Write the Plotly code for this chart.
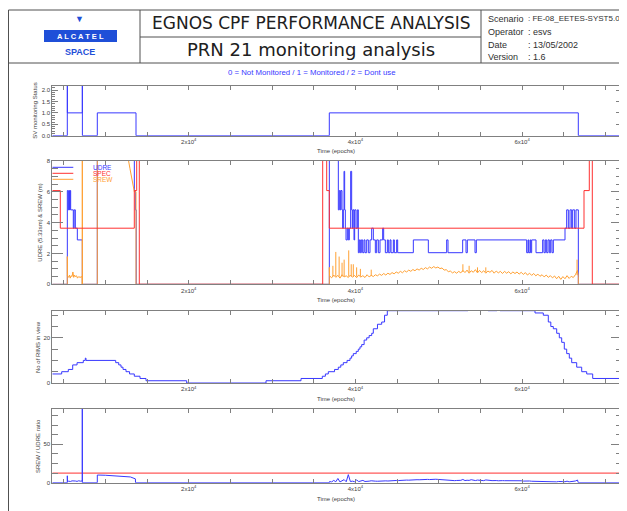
import plotly.graph_objects as go

# the page body keeps its default 8px margin, so the figure is drawn 8px in
PAGE_W, PAGE_H, OFF = 627, 511, 8
W, H = PAGE_W - OFF, PAGE_H - OFF

# ---------------- data (time axis in epochs) ----------------
t_start, t_end = 3630, 72030

# SV monitoring status (0 / 1 / 2)
status_t = [3630, 5430, 5440, 7230, 7240, 9030, 13674, 36870, 66750, 72030]
status_v = [0, 3, 1, 3, 0, 1, 0, 1, 0, 0]

# UDRE (blue, step)
udre_t = [3630, 5434, 5550, 5620, 5700, 5760, 5834, 6150, 6250, 6394, 6634, 7234,
          9030, 13474, 13600, 13700, 36874,
          37954, 38074, 38194, 38274, 38394, 38474, 38554, 38634, 38714, 38794,
          38874, 39034, 39154, 39274, 39434, 39554, 39634, 39714, 39834, 39914,
          40074, 40234, 40354, 40474, 40594, 40714, 40874, 41034, 41154, 41354,
          41554, 41754, 41954, 42154, 42394, 42554, 42754, 42954, 43274, 43394,
          43594, 43834, 43954, 44154, 44274, 44554, 44674, 44954, 45074, 46954,
          48754, 50954, 51114, 52874, 53274, 53434, 54354, 54514, 60554, 60714,
          60794, 60954, 61034, 61154, 61674, 62474, 62634, 62794, 62954, 63114,
          63274, 63434, 63594, 63754, 65154, 65354, 65554, 65754, 65954, 66074,
          66314, 66474, 66754, 72030]
udre_v = [0, 6.08, 4.83, 6.08, 4.83, 6.08, 4.83, 3.64, 4.83, 3.64, 2.88, 0,
          30, 6.08, 4.83, 0, 50,
          4.83, 6.08, 4.83, 6.08, 4.83, 3.64, 4.83, 7.33, 4.83, 3.64,
          2.88, 3.64, 2.88, 3.64, 7.33, 4.83, 3.64, 4.83, 2.88, 4.83,
          3.64, 4.83, 2.05, 2.88, 2.05, 2.88, 2.05, 2.88, 2.05, 2.88,
          2.05, 2.88, 3.64, 2.88, 2.05, 2.88, 2.05, 2.88, 3.64, 2.88,
          2.05, 2.88, 2.05, 2.88, 2.05, 2.88, 2.05, 2.88, 2.05, 2.88,
          2.05, 2.88, 2.05, 2.88, 2.05, 2.88, 2.05, 2.88, 2.05, 2.88,
          2.05, 2.88, 2.05, 2.88, 2.05, 2.88, 2.05, 2.88, 2.05, 2.88,
          2.05, 2.88, 2.05, 2.88, 3.64, 4.83, 3.64, 4.83, 3.64, 4.83,
          3.64, 4.83, 0, 0]

# SPEC (red, step)
spec_t = [3630, 4590, 13470, 13758, 14070, 36078, 36558, 36870, 67434, 68070, 68430, 72030]
spec_v = [6.08, 3.64, 6.08, 20, 0, 20, 6.08, 3.64, 6.08, 20, 0, 0]

# SREW (orange) - first pass outside the monitored period
srew_a_t = [3630, 5430, 5431, 5445, 5600, 5700, 5780, 5900, 6000, 6100, 6200, 6300,
            6400, 6550, 6650, 6800, 6950, 7100, 7225, 7230, 7232, 7236, 9030, 9032,
            11000, 12500, 12754, 12950, 13150, 13350, 13474, 13674, 13676, 36870, 36872]
srew_a_v = [0, 0, 1.8, 0.55, 0.45, 0.6, 0.4, 0.55, 0.5, 0.8, 0.45, 0.6,
            0.5, 0.55, 0.4, 0.5, 0.45, 0.5, 0.5, 0, 30, 0, 0, 30,
            16, 9, 8.1, 7.5, 7.0, 6.5, 6.0, 6.0, 0, 0, 1.1]

# SREW (orange) - monitored period, and SREW/UDRE ratio on the same epochs
mid_t = [36900, 37150, 37400, 37650, 37900, 38150, 38400, 38650, 38900, 39150,
         39400, 39650, 39900, 40150, 40400, 40650, 40900, 41150, 41400, 41650,
         41900, 42150, 42400, 42650, 42900, 43150, 43400, 43650, 43900, 44150,
         44400, 44650, 44900, 45150, 45400, 45650, 45900, 46150, 46400, 46650,
         46900, 47150, 47400, 47650, 47900, 48150, 48400, 48650, 48900, 49150,
         49400, 49650, 49900, 50150, 50400, 50650, 50900, 51150, 51400, 51650,
         51900, 52150, 52400, 52650, 52900, 53150, 53400, 53650, 53900, 54150,
         54400, 54650, 54900, 55150, 55400, 55650, 55900, 56150, 56400, 56650,
         56900, 57150, 57400, 57650, 57900, 58150, 58400, 58650, 58900, 59150,
         59400, 59650, 59900, 60150, 60400, 60650, 60900, 61150, 61400, 61650,
         61900, 62150, 62400, 62650, 62900, 63150, 63400, 63650, 63900, 64150,
         64400, 64650, 64900, 65150, 65400, 65650, 65900, 66150, 66400, 66650]
srew_mid_v = [0.55, 0.42, 0.6, 0.45, 0.58, 0.4, 0.62, 0.48, 0.55, 0.44,
              0.6, 0.46, 0.57, 0.43, 0.6, 0.47, 0.56, 0.44, 0.62, 0.48,
              0.58, 0.5, 0.62, 0.55, 0.66, 0.58, 0.7, 0.6, 0.72, 0.64,
              0.76, 0.68, 0.8, 0.72, 0.84, 0.75, 0.88, 0.8, 0.92, 0.84,
              0.96, 0.88, 1.0, 0.92, 1.04, 0.96, 1.08, 1.0, 1.12, 1.04,
              1.15, 1.06, 1.12, 1.02, 1.06, 0.92, 0.95, 0.82, 0.86, 0.74,
              0.82, 0.72, 0.84, 0.74, 0.9, 0.76, 0.92, 0.72, 0.88, 0.78,
              0.95, 0.74, 0.9, 0.76, 0.88, 0.72, 0.86, 0.78, 0.9, 0.72,
              0.86, 0.74, 0.84, 0.7, 0.84, 0.72, 0.82, 0.68, 0.8, 0.7,
              0.8, 0.66, 0.78, 0.64, 0.76, 0.6, 0.72, 0.58, 0.7, 0.55,
              0.66, 0.52, 0.62, 0.48, 0.6, 0.45, 0.56, 0.42, 0.54, 0.36,
              0.52, 0.32, 0.5, 0.36, 0.56, 0.38, 0.52, 0.44, 0.62, 0.9]
srew_b_t = [66750, 66752, 72030]
srew_b_v = [0.5, 0, 0]

# isolated SREW spikes (epoch, bottom, top)
spike_t = [37300, 37650, 38050, 38400, 38650, 39200, 39500, 39750, 40150, 40600,
           41900, 52900, 53650, 54650, 55650, 66600]
spike_lo = [0.5, 0.5, 0.5, 0.5, 0.5, 0.5, 0.5, 0.5, 0.5, 0.5,
            0.55, 0.8, 0.8, 0.8, 0.8, 0.6]
spike_hi = [1.2, 2.1, 1.8, 1.4, 1.6, 2.2, 1.3, 1.3, 1.1, 1.0,
            0.95, 1.3, 1.2, 1.1, 1.1, 1.6]

ratio_a_t = [3630, 5430, 5432, 5450, 5600, 5800, 6000, 6200, 6400, 6600, 6800, 7000,
             7228, 7230, 7236, 9030, 9032, 10000, 11000, 12000, 13000, 13600, 13620, 36870]
ratio_a_v = [0, 0, 9, 1.5, 2.0, 1.6, 2.4, 1.8, 2.2, 1.7, 2.5, 2.0,
             2.2, 200, 0, 0, 10, 9.7, 9.2, 8.5, 7.5, 5, 0, 0]
ratio_mid_v = [1.5, 1.0, 3.0, 1.2, 5.5, 1.0, 2.0, 4.0, 1.2, 10.5,
               1.5, 2.0, 1.3, 3.5, 1.5, 1.8, 3.0, 1.6, 1.4, 2.0,
               2.5, 1.8, 2.0, 1.9, 2.2, 2.0, 2.3, 2.4, 2.2, 2.6,
               2.5, 2.7, 2.9, 2.8, 3.1, 3.0, 3.2, 3.4, 3.3, 3.6,
               3.5, 3.7, 3.9, 3.8, 4.1, 4.0, 4.2, 4.3, 4.1, 4.4,
               4.2, 4.5, 4.3, 4.0, 3.8, 3.5, 3.3, 3.0, 2.9, 3.1,
               2.7, 2.9, 3.0, 3.1, 4.2, 2.8, 3.2, 3.0, 3.9, 3.1,
               2.8, 3.4, 2.9, 3.1, 2.7, 3.6, 2.9, 3.0, 2.7, 3.1,
               2.8, 2.5, 2.9, 2.7, 2.6, 2.7, 2.4, 2.5, 2.6, 2.3,
               2.4, 2.3, 2.5, 2.1, 2.3, 2.0, 2.2, 1.9, 1.8, 2.0,
               1.6, 1.8, 1.5, 1.4, 1.6, 1.3, 1.5, 1.2, 1.4, 1.1,
               1.6, 1.0, 1.4, 1.2, 2.0, 1.1, 1.5, 1.3, 2.2, 3.5]
ratio_b_t = [66750, 72030]
ratio_b_v = [0, 0]
ratio_limit = 12.5

# Number of RIMS in view (step)
rims_t = [3630, 4758, 5550, 6078, 6600, 7350, 7590, 7674, 11238, 11600, 11874, 12114,
          12474, 12900, 13470, 14154, 14874, 19758, 29274, 33474, 36030, 36400, 36750,
          37500, 37950, 38250, 38550, 39000, 39354, 39550, 39750, 40100, 40350, 40550,
          40758, 41050, 41358, 41650, 41958, 42150, 42650, 43158, 43500, 43830, 53514,
          55914, 56994, 57354, 61554, 62550, 63150, 63450, 63750, 64158, 64470, 64758,
          65070, 65358, 65670, 65958, 66558, 67158, 67758, 68478, 72030]
rims_v = [4, 5, 6, 8, 9, 10, 11, 10, 9, 8, 7, 6,
          5, 4, 3, 2, 1, 0, 1, 2, 3, 4, 5,
          6, 7, 8, 9, 10, 11, 12, 13, 14, 15, 16,
          17, 19, 20, 21, 22, 24, 26, 27, 30, 32, 33,
          32, 33, 32, 31, 30, 27, 25, 24, 22, 20, 18,
          15, 13, 11, 9, 7, 5, 4, 2, 2]

# axis ticks
x_ticks = [5000, 10000, 15000, 20000, 25000, 30000, 35000, 40000, 45000, 50000,
           55000, 60000, 65000, 70000]
x_labels = ["", "", "", "2x10<sup>4</sup>", "", "", "", "4x10<sup>4</sup>", "", "",
            "", "6x10<sup>4</sup>", "", ""]

BLUE = "#3838ff"
RED = "#ff3030"
ORANGE = "#ffa033"
FRAME = "#808080"
TXT = "#404040"
FONT = "Liberation Sans"


# positions below are page pixels, converted to paper fractions
def px(x):
    return (x - OFF) / W


def py(y):
    return 1 - (y - OFF) / H


X_DOM = [px(52.3), px(622.3)]
PANELS = {
    "1": [py(135.7), py(85.7)],
    "2": [py(284.3), py(161)],
    "3": [py(383), py(310.7)],
    "4": [py(482.7), py(409)],
}

fig = go.Figure()


def step(x, y, color, n, shape="hv"):
    fig.add_trace(go.Scatter(
        x=x, y=y, mode="lines", line=dict(color=color, width=1, shape=shape),
        xaxis="x" + n, yaxis="y" + n, showlegend=False, hoverinfo="skip"))


step(status_t, status_v, BLUE, "1")

step(udre_t, udre_v, BLUE, "2")
step(srew_a_t + mid_t + srew_b_t, srew_a_v + srew_mid_v + srew_b_v, ORANGE, "2", "linear")
sx, sy = [], []
for t, lo, hi in zip(spike_t, spike_lo, spike_hi):
    sx += [t, t, None]
    sy += [lo, hi, None]
step(sx, sy, ORANGE, "2", "linear")
step(spec_t, spec_v, RED, "2")

step(rims_t, rims_v, BLUE, "3")

step([t_start, t_end], [ratio_limit, ratio_limit], RED, "4", "linear")
step(ratio_a_t + mid_t + ratio_b_t, ratio_a_v + ratio_mid_v + ratio_b_v, BLUE, "4", "linear")

# ---------------- axes ----------------
y_cfg = {
    "1": dict(range=[0, 2.19], tickvals=[0, 0.5, 1, 1.5, 2],
              ticktext=["0.0", "0.5", "1.0", "1.5", "2.0"], ticklen=6, mdt=0.1, mlen=3),
    "2": dict(range=[0, 8], tickvals=[0, 2, 4, 6, 8],
              ticktext=["0", "2", "4", "6", "8"], ticklen=11, mdt=0.5, mlen=6),
    "3": dict(range=[0, 32], tickvals=[0, 20], ticktext=["0", "20"], ticklen=11, mdt=5, mlen=6),
    "4": dict(range=[0, 96], tickvals=[0, 50], ticktext=["0", "50"], ticklen=11, mdt=12.5, mlen=6),
}

layout_axes = {}
for n, dom in PANELS.items():
    key = "" if n == "1" else n
    c = y_cfg[n]
    layout_axes["xaxis" + key] = dict(
        domain=X_DOM, range=[t_start, t_end], anchor="y" + key,
        tickmode="array", tickvals=x_ticks, ticktext=x_labels,
        ticks="inside", ticklen=4, tickcolor=FRAME, tickwidth=1,
        showline=True, linecolor=FRAME, linewidth=1, mirror="ticks",
        showgrid=False, zeroline=False, automargin=False,
        tickfont=dict(family=FONT, size=6, color=TXT))
    layout_axes["yaxis" + key] = dict(
        domain=dom, range=c["range"], anchor="x" + key,
        tickmode="array", tickvals=c["tickvals"], ticktext=c["ticktext"],
        ticks="inside", ticklen=c["ticklen"], tickcolor=FRAME, tickwidth=1,
        minor=dict(dtick=c["mdt"], tick0=0, ticks="inside", ticklen=c["mlen"],
                   tickcolor=FRAME, showgrid=False),
        showline=True, linecolor=FRAME, linewidth=1, mirror="ticks",
        showgrid=False, zeroline=False, automargin=False,
        tickfont=dict(family=FONT, size=6, color=TXT))

# ---------------- header / frame ----------------
shapes = []


def hline(x0, x1, y, color="#505050", w=1):
    shapes.append(dict(type="line", xref="paper", yref="paper",
                       x0=px(x0), x1=px(x1), y0=py(y), y1=py(y),
                       line=dict(color=color, width=w)))


def vline(x, y0, y1, color="#505050", w=1):
    shapes.append(dict(type="line", xref="paper", yref="paper",
                       x0=px(x), x1=px(x), y0=py(y0), y1=py(y1),
                       line=dict(color=color, width=w)))


hline(8.5, 627, 10)
hline(8.5, 627, 63)
hline(140, 481, 37)
vline(8.5, 10, 511)
vline(140, 10, 63)
vline(481, 10, 63)

# Alcatel logo box
shapes.append(dict(type="rect", xref="paper", yref="paper",
                   x0=px(44), x1=px(117), y0=py(42), y1=py(30),
                   fillcolor="#1f4fd8", line=dict(width=0)))

# legend lines in the UDRE panel
for yy, col in [(167.3, BLUE), (173.3, RED), (179.3, ORANGE)]:
    hline(52.5, 73.3, yy, col)

ann = []


def text(x, y, s, size=8, color=TXT, xanchor="center", angle=0, family=FONT,
         bold=False, pad=1):
    if bold:
        s = "<b>" + s + "</b>"
    ann.append(dict(x=px(x), y=py(y), xref="paper", yref="paper", text=s,
                    showarrow=False, xanchor=xanchor, yanchor="middle", borderpad=pad,
                    textangle=angle, font=dict(family=family, size=size, color=color)))


text(79, 19, "▼", 9, "#1f4fd8")
text(80.5, 36.5, "A L C A T E L", 7.5, "white", bold=True)
text(79.5, 52, "SPACE", 9, "#1f4fd8", bold=True)

text(311, 23, "EGNOS CPF PERFORMANCE ANALYSIS", 17, "#202020", family="DejaVu Sans")
text(311, 50, "PRN 21 monitoring analysis", 18, "#202020", family="DejaVu Sans")

info = [("Scenario", ": FE-08_EETES-SYST5.0.0", 19), ("Operator", ": esvs", 32),
        ("Date", ": 13/05/2002", 45), ("Version", ": 1.6", 57)]
for lab, val, yy in info:
    text(486, yy, lab, 9, "#303030", xanchor="left")
    text(526, yy, val, 8 if lab == "Scenario" else 9, "#303030", xanchor="left")

text(312, 73, "0 = Not Monitored / 1 = Monitored / 2 = Dont use", 7.8, BLUE)

# legend labels
text(92, 167.3, "UDRE", 6.5, BLUE, xanchor="left", pad=0)
text(92, 173.3, "SPEC", 6.5, RED, xanchor="left", pad=0)
text(92, 179.3, "SREW", 6.5, ORANGE, xanchor="left", pad=0)

# axis titles
for yy in [151, 300, 399, 499]:
    text(336, yy, "Time (epochs)", 6, TXT)
text(35, 110.7, "SV monitoring Status", 6, TXT, angle=-90)
text(40, 222.7, "UDRE (5.33sm) & SREW (m)", 6, TXT, angle=-90)
text(38, 347, "No of RIMS in view", 6, TXT, angle=-90)
text(38, 446, "SREW / UDRE ratio", 6, TXT, angle=-90)

fig.update_layout(
    width=W, height=H,
    margin=dict(l=0, r=0, t=0, b=0, autoexpand=False),
    paper_bgcolor="white", plot_bgcolor="white",
    showlegend=False,
    shapes=shapes, annotations=ann,
    **layout_axes)

fig.write_html("out.html")
